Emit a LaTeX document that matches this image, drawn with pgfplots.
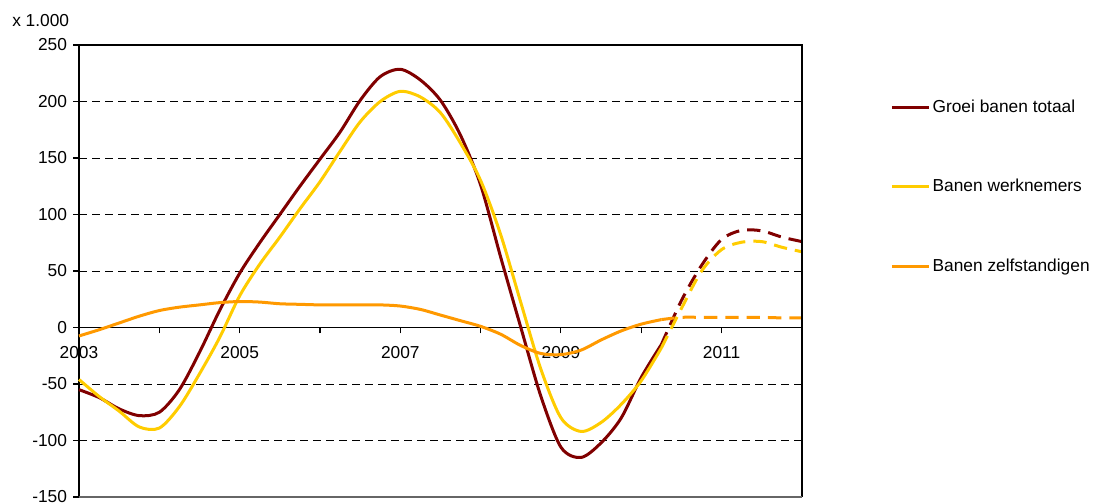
\documentclass[border=0pt]{standalone}
\usepackage{pgfplots}
\pgfplotsset{compat=1.18}
\usepackage{pgfplotstable}
\usepackage{fontspec}
\setmainfont{Liberation Sans}
\definecolor{totaal}{HTML}{800000}
\definecolor{werkn}{HTML}{FFCC00}
\definecolor{zelf}{HTML}{FF9900}

\pgfplotsset{
  layers/mylayers/.define layer set={axis background,axis grid,axis ticks,axis lines,main,axis tick labels,axis descriptions,axis foreground}{},
}

\pgfplotstableread{
x       tot    wer    zel
2003.00 -55    -46    -7.5
2003.25 -62    -61    -2
2003.50 -72    -74    4
2003.75 -78    -88    10
2004.00 -75    -89    15
2004.25 -55    -70    18
2004.50 -22    -41    20
2004.75 15     -9     22
2005.00 48     28     23
2005.25 75     56     22.5
2005.50 100    80     21
2005.75 125    105    20.5
2006.00 149    129    20
2006.25 173    156    20
2006.50 201    182    20
2006.75 222    200    20
2007.00 228.5  209    19
2007.25 219    204    16
2007.50 201    190    11
2007.75 170    163    6
2008.00 126    130    1
2008.25 62     82     -6
2008.50 0      22     -16
2008.75 -61    -37    -23
2009.00 -106   -80    -24
2009.25 -115   -92    -20
2009.50 -102   -84    -11
2009.75 -80    -68    -3
2010.00 -44    -47    3
2010.25 -15    -18    7
}\hist

\pgfplotstableread{
x       tot    wer    zel
2010.25 -15    -18    7
2010.50 24     17     9
2010.75 55     50     9
2011.00 78     69     9
2011.25 86     75.5   9
2011.50 85.5   76     9
2011.75 80     71     8.5
2012.00 76     67     8.5
}\prog

\begin{document}
\fontsize{13}{15}\selectfont
\begin{tikzpicture}
\begin{axis}[
  set layers=mylayers,
  name=ax,
  at={(0,0)}, anchor=south west,
  scale only axis, width=542.25pt, height=339pt,
  xmin=2003, xmax=2012, ymin=-150, ymax=250,
  axis x line=middle, axis y line=left,
  axis line style={-, black, line width=0.9pt},
  hide obscured x ticks=false, hide obscured y ticks=false,
  xtick={2003,2004,...,2012},
  xticklabels={2003,,2005,,2007,,2009,,2011,},
  ytick={-150,-100,-50,0,50,100,150,200,250},
  yticklabels={-150,-100,-50,0,50,100,150,200,250},
  tick align=outside,
  major tick length=4.5pt,
  minor tick num=0,
  tick style={black, line width=0.8pt},
  ymajorgrids,
  grid style={black, line width=0.6pt, dash pattern=on 6pt off 3.75pt},
  ticklabel style={font=\fontsize{13}{15}\selectfont},
  xticklabel style={yshift=-5pt},
  legend style={draw=none, fill=none, at={(1.1217,0.686)}, anchor=west,
    row sep=45pt, inner xsep=0pt, inner ysep=0pt,
    nodes={inner sep=1.5pt}, font=\fontsize{13}{15}\selectfont},
  legend cell align=left,
  legend image code/.code={\draw[#1] (0pt,0pt) -- (28pt,0pt);},
  clip=false,
]
\addplot[totaal, line width=2.25pt, smooth] table[x=x, y=tot] {\hist};
\addlegendentry{Groei banen totaal}
\addplot[werkn, line width=2.25pt, smooth] table[x=x, y=wer] {\hist};
\addlegendentry{Banen werknemers}
\addplot[zelf, line width=2.25pt, smooth] table[x=x, y=zel] {\hist};
\addlegendentry{Banen zelfstandigen}
\addplot[totaal, line width=2.25pt, smooth, dash pattern=on 10pt off 6pt, forget plot] table[x=x, y=tot] {\prog};
\addplot[werkn, line width=2.25pt, smooth, dash pattern=on 10pt off 6pt, forget plot] table[x=x, y=wer] {\prog};
\addplot[zelf, line width=2.25pt, smooth, dash pattern=on 10pt off 6pt, forget plot] table[x=x, y=zel] {\prog};
\draw[black, line width=0.9pt] (rel axis cs:0,1) -- (rel axis cs:1,1) -- (rel axis cs:1,0);
\draw[black!60, line width=0.9pt] (rel axis cs:1,0) -- (rel axis cs:0,0);
\end{axis}
\node[anchor=west, inner sep=0pt] at ([xshift=-50.25pt, yshift=18.2pt]ax.north west) {x 1.000};
\pgfresetboundingbox
\path[use as bounding box] ([xshift=-59.25pt, yshift=-4.5pt]ax.south west) rectangle ([xshift=218.25pt, yshift=33.75pt]ax.north east);
\end{tikzpicture}
\end{document}
